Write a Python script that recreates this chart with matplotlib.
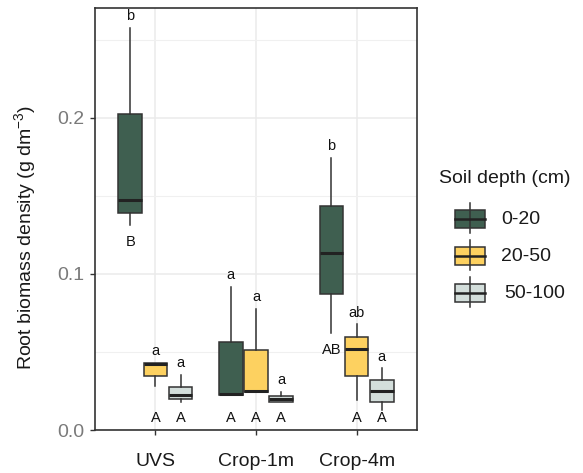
import numpy as np
import matplotlib
matplotlib.use("Agg")
import matplotlib.pyplot as plt
from matplotlib.patches import Rectangle

plt.rcParams['font.family'] = ['Liberation Sans', 'DejaVu Sans']
plt.rcParams['mathtext.default'] = 'regular'

# dados
sites = ["UVS", "Crop-1m", "Crop-4m"]
depths = ["0-20", "20-50", "50-100"]
colors = ["#3F5F50", "#FDD160", "#D3DEDB"]

# uma lista por profundidade, valores por local
whis_hi = [[0.258, 0.0915, 0.1742], [0.0431, 0.0774, 0.0677], [0.0353, 0.0246, 0.0395]]
q3 = [[0.2026, 0.0562, 0.1436], [0.0431, 0.0513, 0.0596], [0.0278, 0.0218, 0.0320]]
med = [[0.1474, 0.0231, 0.1133], [0.0423, 0.0252, 0.0519], [0.0224, 0.0199, 0.0252]]
q1 = [[0.1390, 0.0226, 0.0872], [0.0348, 0.0246, 0.0348], [0.0197, 0.0182, 0.0182]]
whis_lo = [[0.1314, 0.0226, 0.0624], [0.0282, 0.0246, 0.0192], [0.0182, 0.0182, 0.0128]]

upper_letters = [["b", "a", "b"], ["a", "a", "ab"], ["a", "a", "a"]]
lower_letters = [["B", "A", "AB"], ["A", "A", "A"], ["A", "A", "A"]]

W, H = 583, 473
fig = plt.figure(figsize=(W / 100, H / 100), dpi=100)
ax = fig.add_axes([95 / W, 1 - 430 / H, 322 / W, 422 / H])

edge = "#333333"
offsets = [-0.25, 0.0, 0.25]
x = np.arange(1, len(sites) + 1)

for d in range(len(depths)):
    stats = []
    for s in range(len(sites)):
        stats.append(dict(med=med[d][s], q1=q1[d][s], q3=q3[d][s],
                          whislo=whis_lo[d][s], whishi=whis_hi[d][s], fliers=[]))
    ax.bxp(stats, positions=x + offsets[d], widths=0.235, patch_artist=True,
           showcaps=False, showfliers=False,
           boxprops=dict(facecolor=colors[d], edgecolor=edge, linewidth=1.1),
           medianprops=dict(color="#222222", linewidth=2.2),
           whiskerprops=dict(color=edge, linewidth=1.1), zorder=3)
    for s in range(len(sites)):
        xp = x[s] + offsets[d]
        ax.text(xp, whis_hi[d][s] + 0.005, upper_letters[d][s], ha='center',
                va='baseline', fontsize=10.5, color="#111111", zorder=4)
        y_low = whis_lo[d][s] - 0.011
        if y_low < 0.02:
            y_low = 0.0075
        ax.text(xp, y_low, lower_letters[d][s], ha='center', va='center',
                fontsize=10.5, color="#111111", zorder=4)

ax.set_xlim(0.4, 3.6)
ax.set_ylim(0, 0.2705)
ax.set_xticks(x)
ax.set_xticklabels(sites)
ax.set_yticks([0.0, 0.1, 0.2])
ax.set_yticklabels(["0.0", "0.1", "0.2"])
ax.set_yticks([0.05, 0.15, 0.25], minor=True)
ax.grid(True, which='major', color="#EBEBEB", linewidth=1.1, zorder=0)
ax.grid(True, which='minor', axis='y', color="#F0F0F0", linewidth=0.8, zorder=0)
ax.set_axisbelow(True)
ax.tick_params(axis='y', which='minor', length=0)
ax.tick_params(axis='y', which='major', length=3.5, width=1, color=edge,
               labelsize=14, labelcolor="#7A7A7A", pad=4)
ax.tick_params(axis='x', length=3.5, width=1, color=edge, labelsize=14,
               labelcolor="#1A1A1A", pad=13)
for sp in ax.spines.values():
    sp.set_color(edge)
    sp.set_linewidth(1.2)

fig.text(25 / W, 1 - 237 / H, "Root biomass density (g dm$^{-3}$)", rotation=90,
         ha='center', va='center', fontsize=14, color="#1A1A1A")

# legenda desenhada a mao
leg = fig.add_axes([0, 0, 1, 1], zorder=-1)
leg.set_xlim(0, W)
leg.set_ylim(H, 0)
leg.axis('off')
leg.text(439, 178, "Soil depth (cm)", ha='left', va='center', fontsize=14, color="#1A1A1A")
rows = [219, 256, 293]
label_x = [501, 501, 504]
for i, lab in enumerate(depths):
    yc = rows[i]
    leg.plot([470, 470], [yc - 16, yc + 14], color=edge, linewidth=1.1)
    leg.add_patch(Rectangle((455, yc - 9), 30, 18, facecolor=colors[i],
                            edgecolor=edge, linewidth=1.1))
    leg.plot([455, 485], [yc, yc], color="#222222", linewidth=1.8)
    leg.text(label_x[i], yc, lab, ha='left', va='center', fontsize=14, color="#1A1A1A")

fig.savefig("out.png", dpi=100)
